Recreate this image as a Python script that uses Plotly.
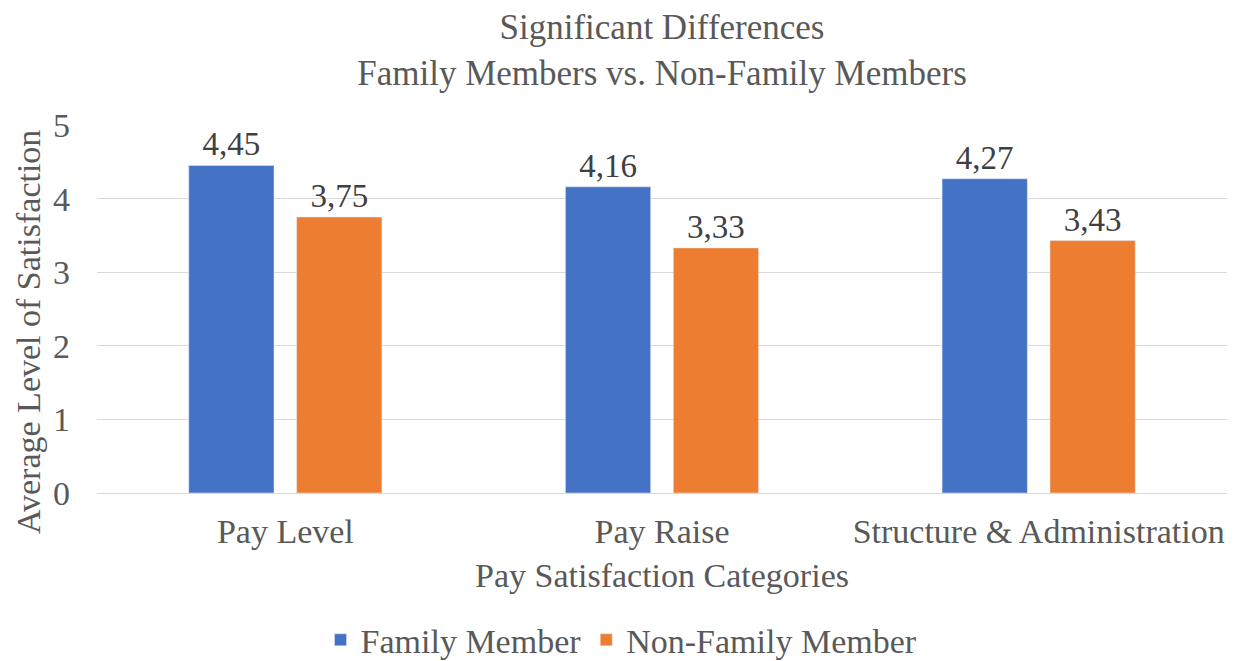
import plotly.graph_objects as go

categories = ["Pay Level", "Pay Raise", "Structure & Administration"]
family = [4.45, 4.16, 4.27]
non_family = [3.75, 3.33, 3.43]
series_names = ["Family Member", "Non-Family Member"]
colors = ["#4472C4", "#ED7D31"]
y_title = "Average Level of Satisfaction"

FONT = "Liberation Serif, Times New Roman, serif"
GRAY = "#595959"

fig = go.Figure()
for name, vals, col in zip(series_names, [family, non_family], colors):
    fig.add_trace(go.Bar(
        x=categories, y=vals, name=name, marker_color=col,
        texttemplate="%{y:.2f}", textposition="outside",
        textfont=dict(family=FONT, size=33, color="#404040"),
        cliponaxis=False,
    ))

# page body has an 8px margin, so the figure is 8px smaller than the window
fig.update_layout(
    separators=",.",
    width=1233, height=653,
    paper_bgcolor="white", plot_bgcolor="white",
    margin=dict(l=89, r=14, t=117, b=168, autoexpand=False),
    barmode="group", bargap=0.427, bargroupgap=0.21,
    font=dict(family=FONT, color=GRAY),
    title=dict(
        text="Significant Differences<br>Family Members vs. Non-Family Members",
        xref="paper", x=0.5, xanchor="center", y=0.9525, yanchor="top",
        font=dict(family=FONT, size=35, color=GRAY),
    ),
    xaxis=dict(
        title=dict(text="Pay Satisfaction Categories", font=dict(size=34, color=GRAY), standoff=14),
        tickfont=dict(size=34, color=GRAY),
        showline=True, linecolor="#D9D9D9", linewidth=1,
        ticks="", automargin=False, ticklabelstandoff=8,
    ),
    yaxis=dict(
        range=[0, 5], dtick=1,
        tickfont=dict(size=34, color=GRAY),
        showgrid=True, gridcolor="#D9D9D9", gridwidth=1,
        zeroline=False, ticks="", automargin=False, ticklabelstandoff=26,
    ),
    legend=dict(
        orientation="h", xref="container", x=0.4976, xanchor="center",
        y=-0.40, yanchor="middle",
        font=dict(size=34, color=GRAY), itemwidth=30,
    ),
    annotations=[dict(
        text=y_title, textangle=-90, showarrow=False,
        xref="paper", x=0, xanchor="center", xshift=-69,
        yref="paper", y=0.4375, yanchor="middle",
        font=dict(family=FONT, size=34, color=GRAY),
    )],
)

fig.write_html("out.html")
